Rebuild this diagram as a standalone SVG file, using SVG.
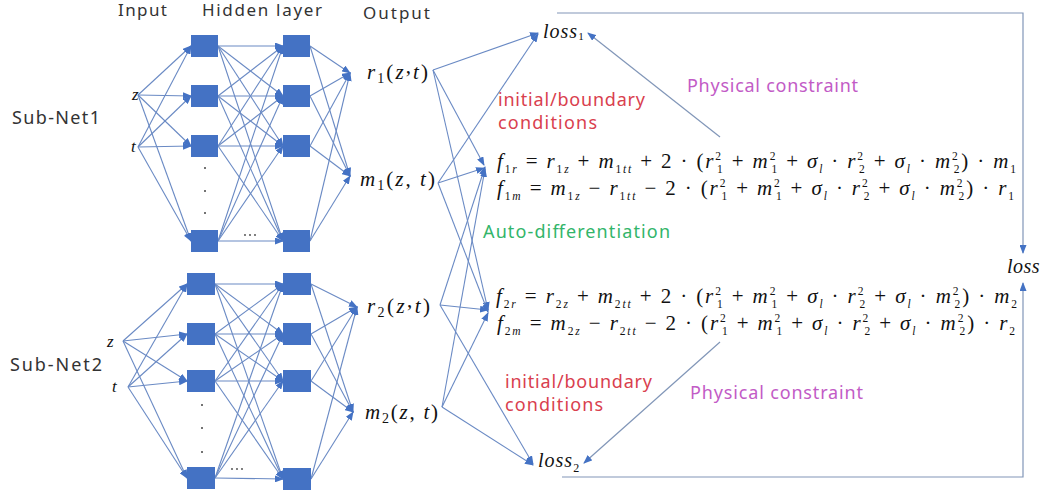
<svg xmlns="http://www.w3.org/2000/svg" width="1041" height="497" viewBox="0 0 1041 497">
<style>
.lbl{font-family:"Noto Sans","Open Sans",sans-serif;font-size:17px;fill:#333}
.red{font-family:"Noto Sans","Open Sans",sans-serif;font-size:18px;fill:#D9404E}
.mag{font-family:"Noto Sans","Open Sans",sans-serif;font-size:18px;fill:#C25BC6}
.grn{font-family:"Noto Sans","Open Sans",sans-serif;font-size:18px;fill:#33B56A}
.m{font-family:"Liberation Serif","Times New Roman",serif;font-size:21px;fill:#111}
.it{font-style:italic}
.sb{font-size:14px}
.ss{font-size:11.5px}
.box{fill:#4472C4}
.c{stroke:#6A8AC4;stroke-width:1.1;fill:none;marker-end:url(#ah)}
.fba{stroke:#8196B8;stroke-width:1.2;fill:none;marker-end:url(#ah)}
.dot{fill:#444}
</style>
<defs>
<marker id="ah" markerUnits="userSpaceOnUse" markerWidth="9" markerHeight="7" refX="8" refY="3.5" orient="auto">
<path d="M0,0 L9,3.5 L0,7 z" fill="#4472C4"/>
</marker>
</defs>
<rect width="1041" height="497" fill="#fff"/>

<g id="headers">
<text class="lbl" x="118" y="16" textLength="49">Input</text>
<text class="lbl" x="202" y="16" textLength="120">Hidden layer</text>
<text class="lbl" x="363" y="19" textLength="67">Output</text>
<text class="lbl" x="12" y="124" textLength="88" style="font-size:18px">Sub-Net1</text>
<text class="lbl" x="10" y="371" textLength="92" style="font-size:18px">Sub-Net2</text>
</g>

<g id="connectors">
<path class="c" d="M138,95 L191,46"/><path class="c" d="M138,95 L191,96"/><path class="c" d="M138,95 L191,146"/><path class="c" d="M138,95 L191,241"/>
<path class="c" d="M138,147 L191,46"/><path class="c" d="M138,147 L191,96"/><path class="c" d="M138,147 L191,146"/><path class="c" d="M138,147 L191,241"/>
<path class="c" d="M218,46 L283,46"/><path class="c" d="M218,46 L283,96"/><path class="c" d="M218,46 L283,146"/><path class="c" d="M218,46 L283,241"/>
<path class="c" d="M218,96 L283,46"/><path class="c" d="M218,96 L283,96"/><path class="c" d="M218,96 L283,146"/><path class="c" d="M218,96 L283,241"/>
<path class="c" d="M218,146 L283,46"/><path class="c" d="M218,146 L283,96"/><path class="c" d="M218,146 L283,146"/><path class="c" d="M218,146 L283,241"/>
<path class="c" d="M218,241 L283,46"/><path class="c" d="M218,241 L283,96"/><path class="c" d="M218,241 L283,146"/><path class="c" d="M218,241 L283,241"/>
<path class="c" d="M310,46 L350,73"/><path class="c" d="M310,96 L350,73"/><path class="c" d="M310,146 L350,73"/><path class="c" d="M310,241 L350,73"/>
<path class="c" d="M310,46 L350,176"/><path class="c" d="M310,96 L350,176"/><path class="c" d="M310,146 L350,176"/><path class="c" d="M310,241 L350,176"/>

<path class="c" d="M123,341 L187,284"/><path class="c" d="M123,341 L187,334"/><path class="c" d="M123,341 L187,381"/><path class="c" d="M123,341 L187,478"/>
<path class="c" d="M128,387 L187,284"/><path class="c" d="M128,387 L187,334"/><path class="c" d="M128,387 L187,381"/><path class="c" d="M128,387 L187,478"/>
<path class="c" d="M215,284 L283,284"/><path class="c" d="M215,284 L283,334"/><path class="c" d="M215,284 L283,381"/><path class="c" d="M215,284 L283,479"/>
<path class="c" d="M215,334 L283,284"/><path class="c" d="M215,334 L283,334"/><path class="c" d="M215,334 L283,381"/><path class="c" d="M215,334 L283,479"/>
<path class="c" d="M215,381 L283,284"/><path class="c" d="M215,381 L283,334"/><path class="c" d="M215,381 L283,381"/><path class="c" d="M215,381 L283,479"/>
<path class="c" d="M215,478 L283,284"/><path class="c" d="M215,478 L283,334"/><path class="c" d="M215,478 L283,381"/><path class="c" d="M215,478 L283,479"/>
<path class="c" d="M311,284 L357,307"/><path class="c" d="M311,334 L357,307"/><path class="c" d="M311,381 L357,307"/><path class="c" d="M311,479 L357,307"/>
<path class="c" d="M311,284 L353,412"/><path class="c" d="M311,334 L353,412"/><path class="c" d="M311,381 L353,412"/><path class="c" d="M311,479 L353,412"/>

<path class="c" d="M433,70 L538,33"/><path class="c" d="M433,70 L484,165"/><path class="c" d="M433,70 L488,310"/>
<path class="c" d="M438,183 L538,34"/><path class="c" d="M438,183 L484,168"/><path class="c" d="M438,183 L488,312"/>
<path class="c" d="M440,305 L485,167"/><path class="c" d="M440,305 L488,310"/><path class="c" d="M440,305 L533,464"/>
<path class="c" d="M442,407 L485,169"/><path class="c" d="M442,407 L488,313"/><path class="c" d="M442,407 L533,465"/>

<path class="fba" d="M720,137 L588,33"/>
<path class="fba" d="M720,342 L584,463"/>
<path class="fba" d="M557,13 L1023,13 L1023,253"/>
<path class="fba" d="M562,477 L1023,477 L1023,283"/>
</g>

<g id="subnet1">
<text class="m it" x="132" y="100" style="font-size:17px">z</text>
<text class="m it" x="131" y="152" style="font-size:17px">t</text>
<rect class="box" x="191" y="35" width="27" height="22"/>
<rect class="box" x="191" y="85" width="27" height="22"/>
<rect class="box" x="191" y="135" width="27" height="22"/>
<rect class="box" x="191" y="230" width="27" height="22"/>
<rect class="box" x="283" y="35" width="27" height="22"/>
<rect class="box" x="283" y="85" width="27" height="22"/>
<rect class="box" x="283" y="135" width="27" height="22"/>
<rect class="box" x="283" y="230" width="27" height="22"/>
<circle class="dot" cx="205" cy="168" r="1"/><circle class="dot" cx="205" cy="191" r="1"/><circle class="dot" cx="205" cy="213" r="1"/>
<circle class="dot" cx="245" cy="235" r="0.9"/><circle class="dot" cx="250" cy="235" r="0.9"/><circle class="dot" cx="255" cy="235" r="0.9"/>
</g>

<g id="subnet2">
<text class="m it" x="107" y="347" style="font-size:17px">z</text>
<text class="m it" x="112" y="392" style="font-size:17px">t</text>
<rect class="box" x="187" y="273" width="28" height="22"/>
<rect class="box" x="187" y="323" width="28" height="22"/>
<rect class="box" x="187" y="370" width="28" height="22"/>
<rect class="box" x="187" y="467" width="28" height="22"/>
<rect class="box" x="283" y="273" width="28" height="22"/>
<rect class="box" x="283" y="323" width="28" height="22"/>
<rect class="box" x="283" y="370" width="28" height="22"/>
<rect class="box" x="283" y="468" width="28" height="22"/>
<circle class="dot" cx="202" cy="405" r="1"/><circle class="dot" cx="202" cy="428" r="1"/><circle class="dot" cx="202" cy="452" r="1"/>
<circle class="dot" cx="232" cy="469" r="0.9"/><circle class="dot" cx="237" cy="469" r="0.9"/><circle class="dot" cx="242" cy="469" r="0.9"/>
</g>

<g id="outputs">
<text class="m" x="367" y="79" textLength="61"><tspan class="it">r</tspan><tspan class="sb" dy="4">1</tspan><tspan dy="-4">(</tspan><tspan class="it">z</tspan><tspan dy="-6">,</tspan><tspan class="it" dy="6">t</tspan>)</text>
<text class="m" x="360" y="186" textLength="75"><tspan class="it">m</tspan><tspan class="sb" dy="4">1</tspan><tspan dy="-4">(</tspan><tspan class="it">z</tspan>, <tspan class="it">t</tspan>)</text>
<text class="m" x="367" y="313" textLength="63"><tspan class="it">r</tspan><tspan class="sb" dy="4">2</tspan><tspan dy="-4">(</tspan><tspan class="it">z</tspan><tspan dy="-6">,</tspan><tspan class="it" dy="6">t</tspan>)</text>
<text class="m" x="365" y="419" textLength="73"><tspan class="it">m</tspan><tspan class="sb" dy="4">2</tspan><tspan dy="-4">(</tspan><tspan class="it">z</tspan>, <tspan class="it">t</tspan>)</text>
</g>

<g id="loss1">
<text class="m it" x="543" y="38" style="font-size:20px" letter-spacing="1">loss<tspan style="font-style:normal;font-size:11px" dy="2">1</tspan></text>
</g>
<g id="loss2">
<text class="m it" x="538" y="467" style="font-size:20px" letter-spacing="1">loss<tspan style="font-style:normal;font-size:12px" dy="5">2</tspan></text>
</g>
<g id="loss">
<text class="m it" x="1007" y="273" style="font-size:20px" letter-spacing="0.5">loss</text>
</g>

<g id="labels">
<text class="red" x="498" y="106" textLength="147">initial/boundary</text>
<text class="red" x="498" y="129" textLength="99">conditions</text>
<text class="grn" x="483" y="238" textLength="187">Auto-differentiation</text>
<text class="mag" x="687" y="92" textLength="171">Physical constraint</text>
<text class="red" x="505" y="388" textLength="147">initial/boundary</text>
<text class="red" x="505" y="411" textLength="98">conditions</text>
<text class="mag" x="690" y="399" textLength="173">Physical constraint</text>
</g>

<g id="equations1">
<text class="m" x="497" y="168" textLength="519" lengthAdjust="spacing"><tspan class="it">f</tspan><tspan class="ss" dy="4.5">1</tspan><tspan class="ss it">r</tspan><tspan dy="-4.5"> = </tspan><tspan class="it">r</tspan><tspan class="ss" dy="4.5">1</tspan><tspan class="ss it">z</tspan><tspan dy="-4.5"> + </tspan><tspan class="it">m</tspan><tspan class="ss" dy="4.5">1</tspan><tspan class="ss it">tt</tspan><tspan dy="-4.5"> + 2 · (</tspan><tspan class="it">r</tspan><tspan class="ss" dy="-8">2</tspan><tspan class="ss" dx="-5.8" dy="12.5">1</tspan><tspan dy="-4.5"> + </tspan><tspan class="it">m</tspan><tspan class="ss" dy="-8">2</tspan><tspan class="ss" dx="-5.8" dy="12.5">1</tspan><tspan dy="-4.5"> + </tspan><tspan class="it">σ</tspan><tspan class="ss it" dy="4.5">l</tspan><tspan dy="-4.5"> · </tspan><tspan class="it">r</tspan><tspan class="ss" dy="-8">2</tspan><tspan class="ss" dx="-5.8" dy="12.5">2</tspan><tspan dy="-4.5"> + </tspan><tspan class="it">σ</tspan><tspan class="ss it" dy="4.5">l</tspan><tspan dy="-4.5"> · </tspan><tspan class="it">m</tspan><tspan class="ss" dy="-8">2</tspan><tspan class="ss" dx="-5.8" dy="12.5">2</tspan><tspan dy="-4.5">) · </tspan><tspan class="it">m</tspan><tspan class="ss" dy="4.5">1</tspan></text>
<text class="m" x="497" y="195" textLength="517" lengthAdjust="spacing"><tspan class="it">f</tspan><tspan class="ss" dy="4.5">1</tspan><tspan class="ss it">m</tspan><tspan dy="-4.5"> = </tspan><tspan class="it">m</tspan><tspan class="ss" dy="4.5">1</tspan><tspan class="ss it">z</tspan><tspan dy="-4.5"> − </tspan><tspan class="it">r</tspan><tspan class="ss" dy="4.5">1</tspan><tspan class="ss it">tt</tspan><tspan dy="-4.5"> − 2 · (</tspan><tspan class="it">r</tspan><tspan class="ss" dy="-8">2</tspan><tspan class="ss" dx="-5.8" dy="12.5">1</tspan><tspan dy="-4.5"> + </tspan><tspan class="it">m</tspan><tspan class="ss" dy="-8">2</tspan><tspan class="ss" dx="-5.8" dy="12.5">1</tspan><tspan dy="-4.5"> + </tspan><tspan class="it">σ</tspan><tspan class="ss it" dy="4.5">l</tspan><tspan dy="-4.5"> · </tspan><tspan class="it">r</tspan><tspan class="ss" dy="-8">2</tspan><tspan class="ss" dx="-5.8" dy="12.5">2</tspan><tspan dy="-4.5"> + </tspan><tspan class="it">σ</tspan><tspan class="ss it" dy="4.5">l</tspan><tspan dy="-4.5"> · </tspan><tspan class="it">m</tspan><tspan class="ss" dy="-8">2</tspan><tspan class="ss" dx="-5.8" dy="12.5">2</tspan><tspan dy="-4.5">) · </tspan><tspan class="it">r</tspan><tspan class="ss" dy="4.5">1</tspan></text>
</g>

<g id="equations2">
<text class="m" x="496" y="303" textLength="521" lengthAdjust="spacing"><tspan class="it">f</tspan><tspan class="ss" dy="4.5">2</tspan><tspan class="ss it">r</tspan><tspan dy="-4.5"> = </tspan><tspan class="it">r</tspan><tspan class="ss" dy="4.5">2</tspan><tspan class="ss it">z</tspan><tspan dy="-4.5"> + </tspan><tspan class="it">m</tspan><tspan class="ss" dy="4.5">2</tspan><tspan class="ss it">tt</tspan><tspan dy="-4.5"> + 2 · (</tspan><tspan class="it">r</tspan><tspan class="ss" dy="-8">2</tspan><tspan class="ss" dx="-5.8" dy="12.5">1</tspan><tspan dy="-4.5"> + </tspan><tspan class="it">m</tspan><tspan class="ss" dy="-8">2</tspan><tspan class="ss" dx="-5.8" dy="12.5">1</tspan><tspan dy="-4.5"> + </tspan><tspan class="it">σ</tspan><tspan class="ss it" dy="4.5">l</tspan><tspan dy="-4.5"> · </tspan><tspan class="it">r</tspan><tspan class="ss" dy="-8">2</tspan><tspan class="ss" dx="-5.8" dy="12.5">2</tspan><tspan dy="-4.5"> + </tspan><tspan class="it">σ</tspan><tspan class="ss it" dy="4.5">l</tspan><tspan dy="-4.5"> · </tspan><tspan class="it">m</tspan><tspan class="ss" dy="-8">2</tspan><tspan class="ss" dx="-5.8" dy="12.5">2</tspan><tspan dy="-4.5">) · </tspan><tspan class="it">m</tspan><tspan class="ss" dy="4.5">2</tspan></text>
<text class="m" x="497" y="330" textLength="518" lengthAdjust="spacing"><tspan class="it">f</tspan><tspan class="ss" dy="4.5">2</tspan><tspan class="ss it">m</tspan><tspan dy="-4.5"> = </tspan><tspan class="it">m</tspan><tspan class="ss" dy="4.5">2</tspan><tspan class="ss it">z</tspan><tspan dy="-4.5"> − </tspan><tspan class="it">r</tspan><tspan class="ss" dy="4.5">2</tspan><tspan class="ss it">tt</tspan><tspan dy="-4.5"> − 2 · (</tspan><tspan class="it">r</tspan><tspan class="ss" dy="-8">2</tspan><tspan class="ss" dx="-5.8" dy="12.5">1</tspan><tspan dy="-4.5"> + </tspan><tspan class="it">m</tspan><tspan class="ss" dy="-8">2</tspan><tspan class="ss" dx="-5.8" dy="12.5">1</tspan><tspan dy="-4.5"> + </tspan><tspan class="it">σ</tspan><tspan class="ss it" dy="4.5">l</tspan><tspan dy="-4.5"> · </tspan><tspan class="it">r</tspan><tspan class="ss" dy="-8">2</tspan><tspan class="ss" dx="-5.8" dy="12.5">2</tspan><tspan dy="-4.5"> + </tspan><tspan class="it">σ</tspan><tspan class="ss it" dy="4.5">l</tspan><tspan dy="-4.5"> · </tspan><tspan class="it">m</tspan><tspan class="ss" dy="-8">2</tspan><tspan class="ss" dx="-5.8" dy="12.5">2</tspan><tspan dy="-4.5">) · </tspan><tspan class="it">r</tspan><tspan class="ss" dy="4.5">2</tspan></text>
</g>
</svg>
